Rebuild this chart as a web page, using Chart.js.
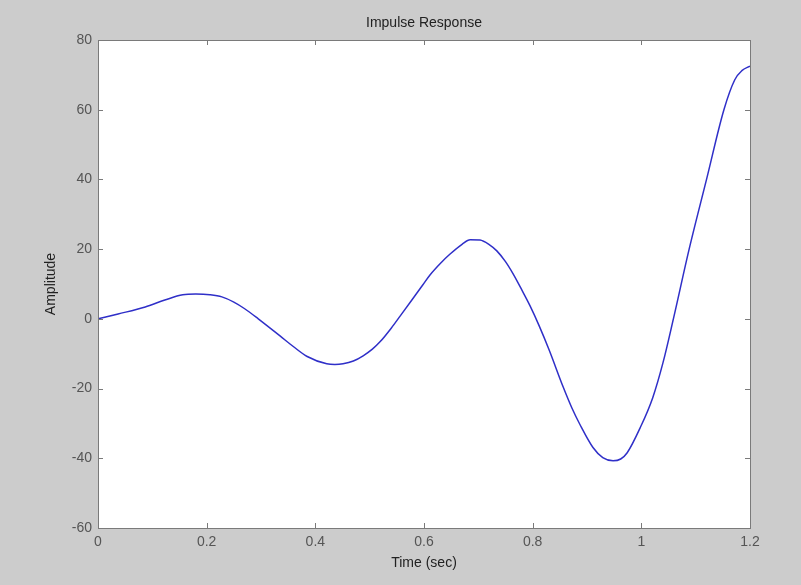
<!DOCTYPE html>
<html>
<head>
<meta charset="utf-8">
<title>Impulse Response</title>
<script src="https://cdn.jsdelivr.net/npm/chart.js@4/dist/chart.umd.min.js"></script>
<style>
    html, body { margin: 0; padding: 0; background: #cccccc; }
    #wrap { width: 801px; height: 585px; }
</style>
</head>
<body>
<div id="wrap"><canvas id="chart" width="801" height="585"></canvas></div>
<script>
// ===== DATA =====
const timeSec = [
    0, 0.037, 0.087, 0.123, 0.156, 0.18, 0.206, 0.228, 0.25, 0.27, 0.295,
    0.335, 0.36, 0.385, 0.421, 0.436, 0.451, 0.47, 0.488, 0.505, 0.519, 0.54,
    0.556, 0.578, 0.598, 0.611, 0.63, 0.648, 0.67, 0.685, 0.703, 0.72, 0.734,
    0.75, 0.764, 0.78, 0.795, 0.812, 0.83, 0.856, 0.872, 0.887, 0.911, 0.929,
    0.948, 0.962, 0.974, 0.998, 1.021, 1.04, 1.059, 1.088, 1.12, 1.152, 1.172,
    1.185, 1.2
];
const amplitude = [
    0, 1.4, 3.4, 5.4, 6.9, 7.1, 6.9, 6.3, 4.8, 2.9, 0,
    -4.9, -8.0, -10.8, -12.9, -13.1, -12.9, -12.1, -10.6, -8.7, -6.6, -2.6,
    0.8, 5.5, 9.8, 12.6, 15.9, 18.6, 21.4, 22.7, 22.6, 21.3, 19.5,
    16.4, 12.9, 8.3, 3.8, -2.0, -8.8, -19.5, -25.5, -30.3, -36.9, -39.8,
    -40.7, -40.2, -38.4, -31.2, -22.6, -12.5, 0, 20, 40, 60, 68.6,
    71.2, 72.5
];
const xTicks = [0, 0.2, 0.4, 0.6, 0.8, 1, 1.2];
const yTicks = [-60, -40, -20, 0, 20, 40, 60, 80];

const chartTitle = "Impulse Response";
const xTitle = "Time (sec)";
const yTitle = "Amplitude";

// ===== STYLE =====
const FONT = "'Liberation Sans', Arial, sans-serif";
const axisColor = "#7a7a7a";
const tickLen = 5;

// white plot box, border, inward ticks and title (matlab look)
const framePlugin = {
    id: "frame",
    beforeDraw(chart) {
        const { ctx, chartArea: a } = chart;
        ctx.save();
        ctx.fillStyle = "#ffffff";
        ctx.fillRect(a.left, a.top, a.right - a.left, a.bottom - a.top);
        ctx.restore();
    },
    afterDraw(chart) {
        const { ctx, chartArea: a, scales } = chart;
        ctx.save();
        ctx.strokeStyle = axisColor;
        ctx.lineWidth = 1;
        ctx.strokeRect(a.left + 0.5, a.top + 0.5, a.right - a.left, a.bottom - a.top);

        ctx.beginPath();
        xTicks.forEach((v) => {
            const px = Math.round(scales.x.getPixelForValue(v)) + 0.5;
            ctx.moveTo(px, a.bottom);
            ctx.lineTo(px, a.bottom - tickLen);
            ctx.moveTo(px, a.top);
            ctx.lineTo(px, a.top + tickLen);
        });
        yTicks.forEach((v) => {
            const py = Math.round(scales.y.getPixelForValue(v)) + 0.5;
            ctx.moveTo(a.left, py);
            ctx.lineTo(a.left + tickLen, py);
            ctx.moveTo(a.right, py);
            ctx.lineTo(a.right - tickLen, py);
        });
        ctx.stroke();

        // title over the plot area
        ctx.fillStyle = "#222222";
        ctx.font = "14px " + FONT;
        ctx.textAlign = "center";
        ctx.textBaseline = "middle";
        ctx.fillText(chartTitle, (a.left + a.right) / 2, 23);
        ctx.restore();
    },
};

const ctx = document.getElementById("chart").getContext("2d");
new Chart(ctx, {
    type: "line",
    data: {
        datasets: [{
            data: timeSec.map((t, i) => ({ x: t, y: amplitude[i] })),
            borderColor: "#2f2fc8",
            borderWidth: 1.5,
            pointRadius: 0,
            cubicInterpolationMode: "monotone",
            fill: false,
        }],
    },
    options: {
        responsive: false,
        animation: false,
        layout: { padding: { top: 40, right: 51, bottom: 0, left: 0 } },
        plugins: {
            legend: { display: false },
            tooltip: { enabled: false },
            title: { display: false },
        },
        scales: {
            x: {
                type: "linear",
                min: 0,
                max: 1.2,
                afterBuildTicks: (s) => { s.ticks = xTicks.map((v) => ({ value: v })); },
                afterFit: (s) => { s.height = 57; },
                grid: { display: false, drawTicks: false },
                border: { display: false },
                ticks: {
                    padding: 6,
                    color: "#555555",
                    font: { family: FONT, size: 14 },
                    maxRotation: 0,
                    autoSkip: false,
                    callback: (v) => String(Math.round(v * 10) / 10),
                },
                title: {
                    display: true,
                    text: xTitle,
                    color: "#222222",
                    font: { family: FONT, size: 14 },
                    padding: { top: 0, bottom: 13 },
                },
            },
            y: {
                min: -60,
                max: 80,
                afterBuildTicks: (s) => { s.ticks = yTicks.map((v) => ({ value: v })); },
                afterFit: (s) => { s.width = 98; },
                grid: { display: false, drawTicks: false },
                border: { display: false },
                ticks: {
                    padding: 6,
                    color: "#555555",
                    font: { family: FONT, size: 14 },
                    autoSkip: false,
                },
                title: {
                    display: true,
                    text: yTitle,
                    color: "#222222",
                    font: { family: FONT, size: 14 },
                    padding: { top: 43, bottom: 0 },
                },
            },
        },
    },
    plugins: [framePlugin],
});
</script>
</body>
</html>
